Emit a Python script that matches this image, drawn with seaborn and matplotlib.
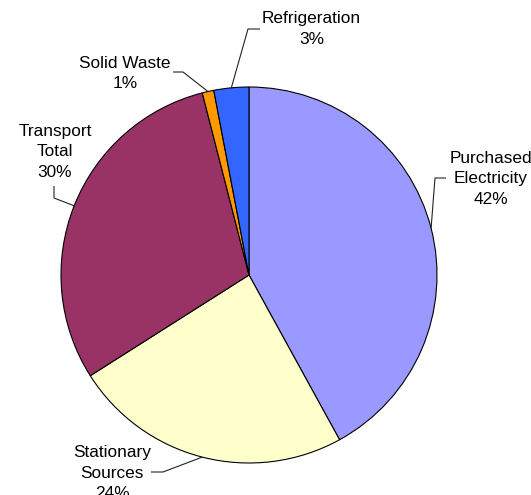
import numpy as np
import matplotlib
matplotlib.use("Agg")
import matplotlib.pyplot as plt
import seaborn as sns

# ---- data ----
categories = ["Purchased\nElectricity", "Stationary\nSources", "Transport\nTotal",
              "Solid Waste", "Refrigeration"]
shares = [42, 24, 30, 1, 3]
colors = ["#9999FF", "#FFFFCC", "#993366", "#FF9900", "#3366FF"]

sns.set_theme(style="white")
plt.rcParams["font.family"] = ["Liberation Sans", "DejaVu Sans"]

W, H = 531, 495
fig = plt.figure(figsize=(W / 100, H / 100), dpi=100)
ax = fig.add_axes([0, 0, 1, 1])

cx, cy, R = 249, 275, 188  # image pixel coords of pie centre / radius


def Y(y):
    return H - y


wedges, _ = ax.pie(shares, colors=colors, startangle=90, counterclock=False,
                   center=(cx, Y(cy)), radius=R,
                   wedgeprops=dict(edgecolor="black", linewidth=0.8))
ax.set_xlim(0, W)
ax.set_ylim(0, H)
ax.set_aspect("auto")
ax.axis("off")

# label layout (image pixel coords): text centre, elbow, line end near text
layout = {
    "Purchased\nElectricity": dict(text=(491, 179), elbow=(435, 178), end=(446, 178)),
    "Stationary\nSources": dict(text=(112, 473), elbow=(163, 472), end=(151, 472)),
    "Transport\nTotal": dict(text=(55, 152), elbow=(54, 198), end=(54, 186)),
    "Solid Waste": dict(text=(125, 73.5), elbow=(183, 72), end=(173, 72)),
    "Refrigeration": dict(text=(311.5, 29), elbow=(248, 29), end=(260, 29)),
}

for w, cat, val in zip(wedges, categories, shares):
    mid = np.deg2rad((w.theta1 + w.theta2) / 2)
    px = cx + R * np.cos(mid)
    py = Y(cy) + R * np.sin(mid)
    L = layout[cat]
    ex, ey = L["elbow"]
    tx, ty = L["end"]
    ax.plot([px, ex, tx], [py, Y(ey), Y(ty)], color="#222222", lw=0.8,
            solid_capstyle="butt")
    x, y = L["text"]
    ax.text(x, Y(y), f"{cat}\n{val}%", ha="center", va="center",
            fontsize=12.4, linespacing=1.42, color="black")

fig.savefig("out.png", dpi=100, facecolor="white")
